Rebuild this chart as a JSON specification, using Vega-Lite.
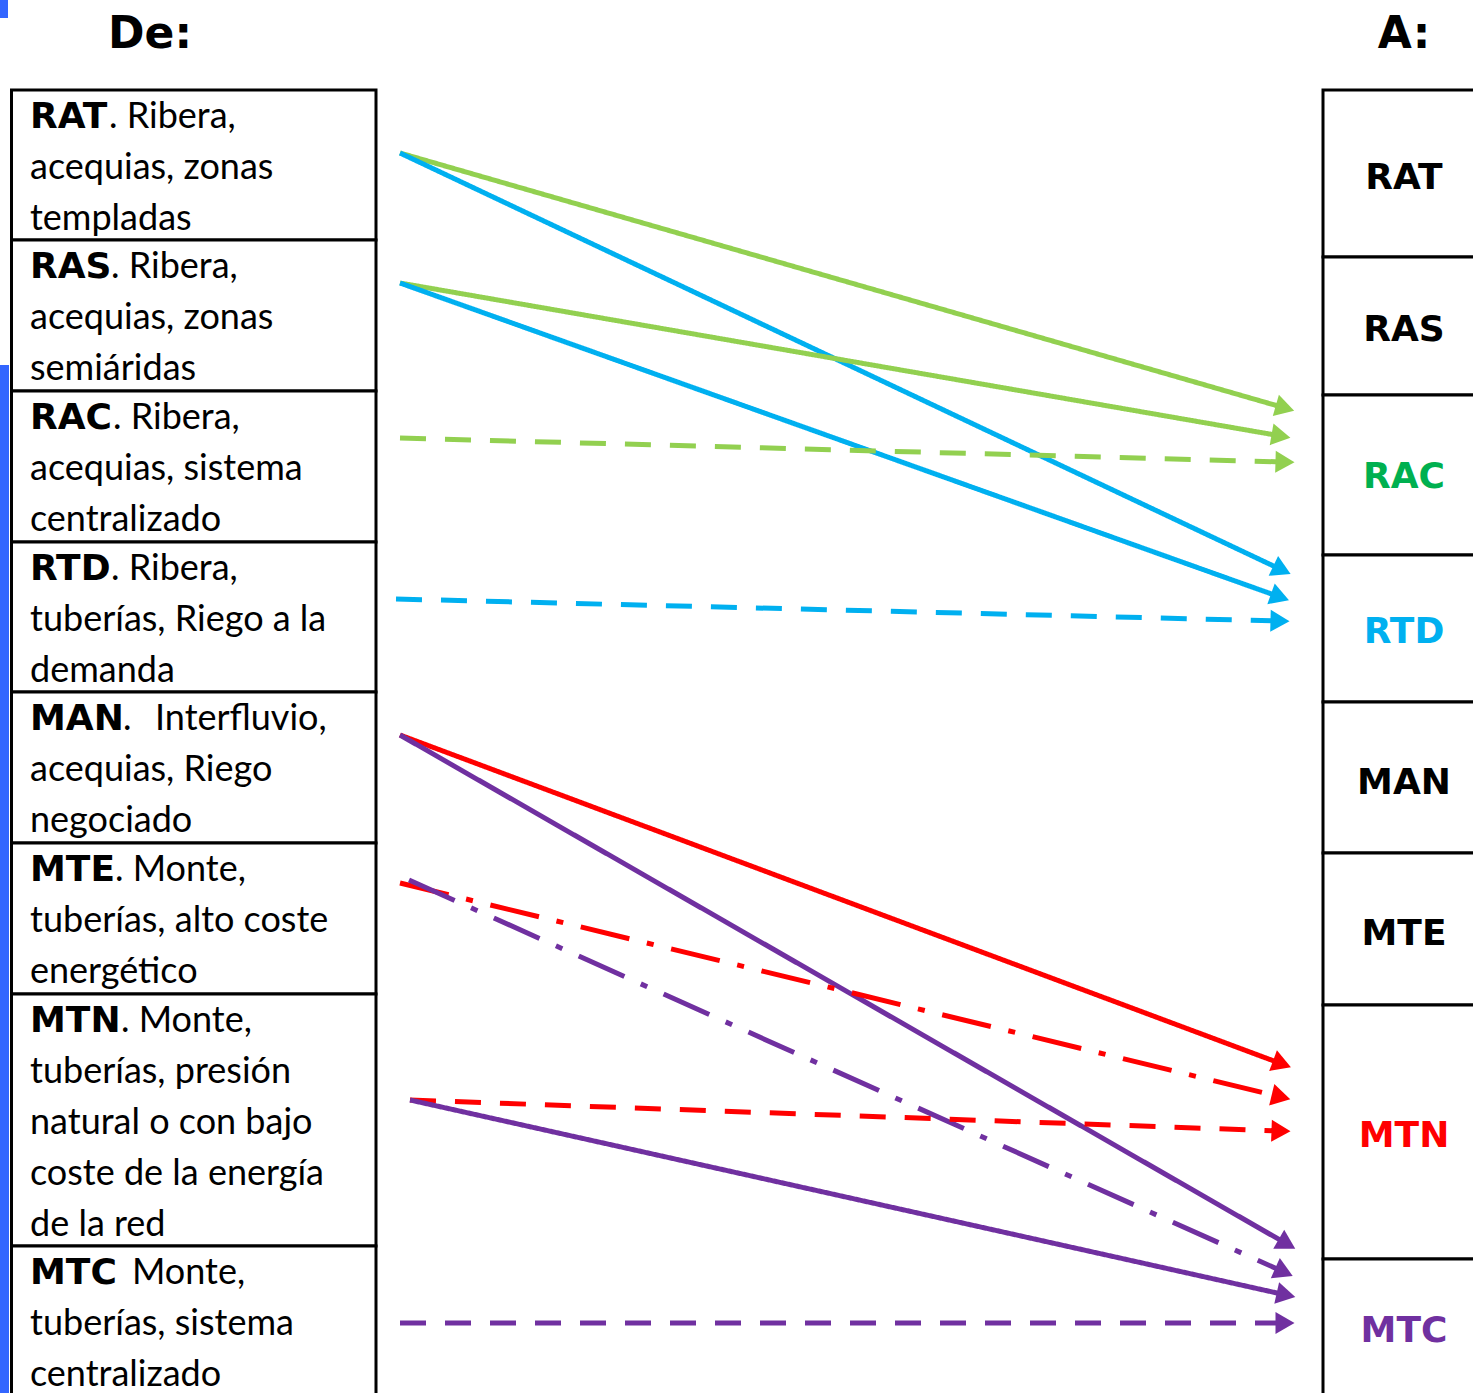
{
  "$schema": "https://vega.github.io/schema/vega-lite/v6.json",
  "width": 1473,
  "height": 1393,
  "autosize": {"type": "fit", "contains": "padding"},
  "padding": 0,
  "background": "white",
  "config": {"view": {"stroke": null}},
  "datasets": {
    "deco": [
      {"x": 0, "x2": 9, "y": 365, "y2": 1393},
      {"x": 0, "x2": 8, "y": 0, "y2": 18}
    ],
    "boxes": [
      {"side": "L", "x": 11.5, "x2": 376, "y": 90, "y2": 240},
      {"side": "L", "x": 11.5, "x2": 376, "y": 240, "y2": 391},
      {"side": "L", "x": 11.5, "x2": 376, "y": 391, "y2": 542},
      {"side": "L", "x": 11.5, "x2": 376, "y": 542, "y2": 692},
      {"side": "L", "x": 11.5, "x2": 376, "y": 692, "y2": 843},
      {"side": "L", "x": 11.5, "x2": 376, "y": 843, "y2": 994},
      {"side": "L", "x": 11.5, "x2": 376, "y": 994, "y2": 1246},
      {"side": "L", "x": 11.5, "x2": 376, "y": 1246, "y2": 1405},
      {"side": "R", "x": 1323, "x2": 1490, "y": 90, "y2": 257},
      {"side": "R", "x": 1323, "x2": 1490, "y": 257, "y2": 395},
      {"side": "R", "x": 1323, "x2": 1490, "y": 395, "y2": 555},
      {"side": "R", "x": 1323, "x2": 1490, "y": 555, "y2": 702},
      {"side": "R", "x": 1323, "x2": 1490, "y": 702, "y2": 853},
      {"side": "R", "x": 1323, "x2": 1490, "y": 853, "y2": 1005},
      {"side": "R", "x": 1323, "x2": 1490, "y": 1005, "y2": 1259},
      {"side": "R", "x": 1323, "x2": 1490, "y": 1259, "y2": 1405}
    ],
    "titles": [
      {"text": "De:", "x": 150, "y": 48},
      {"text": "A:", "x": 1404, "y": 48}
    ],
    "codes": [
      {"text": "RAT", "x": 30, "y": 128},
      {"text": "RAS", "x": 30, "y": 278},
      {"text": "RAC", "x": 30, "y": 429},
      {"text": "RTD", "x": 30, "y": 580},
      {"text": "MAN", "x": 30, "y": 730},
      {"text": "MTE", "x": 30, "y": 881},
      {"text": "MTN", "x": 30, "y": 1032},
      {"text": "MTC", "x": 30, "y": 1284}
    ],
    "plain": [
      {"text": ". Ribera,", "x": 109, "y": 128},
      {"text": "acequias, zonas", "x": 30, "y": 179},
      {"text": "templadas", "x": 30, "y": 230},
      {"text": ". Ribera,", "x": 111, "y": 278},
      {"text": "acequias, zonas", "x": 30, "y": 329},
      {"text": "semiáridas", "x": 30, "y": 380},
      {"text": ". Ribera,", "x": 113, "y": 429},
      {"text": "acequias, sistema", "x": 30, "y": 480},
      {"text": "centralizado", "x": 30, "y": 531},
      {"text": ". Ribera,", "x": 111, "y": 580},
      {"text": "tuberías, Riego a la", "x": 30, "y": 631},
      {"text": "demanda", "x": 30, "y": 682},
      {"text": ".", "x": 123, "y": 730},
      {"text": "Interfluvio,", "x": 155, "y": 730},
      {"text": "acequias, Riego", "x": 30, "y": 781},
      {"text": "negociado", "x": 30, "y": 832},
      {"text": ". Monte,", "x": 115, "y": 881},
      {"text": "tuberías, alto coste", "x": 30, "y": 932},
      {"text": "energético", "x": 30, "y": 983},
      {"text": ". Monte,", "x": 121, "y": 1032},
      {"text": "tuberías, presión", "x": 30, "y": 1083},
      {"text": "natural o con bajo", "x": 30, "y": 1134},
      {"text": "coste de la energía", "x": 30, "y": 1185},
      {"text": "de la red", "x": 30, "y": 1236},
      {"text": "Monte,", "x": 132, "y": 1284},
      {"text": "tuberías, sistema", "x": 30, "y": 1335},
      {"text": "centralizado", "x": 30, "y": 1386}
    ],
    "right": [
      {"text": "RAT", "x": 1404, "y": 189},
      {"text": "RAS", "x": 1404, "y": 341},
      {"text": "RAC", "x": 1404, "y": 488},
      {"text": "RTD", "x": 1404, "y": 643},
      {"text": "MAN", "x": 1404, "y": 794},
      {"text": "MTE", "x": 1404, "y": 945},
      {"text": "MTN", "x": 1404, "y": 1147},
      {"text": "MTC", "x": 1404, "y": 1342}
    ],
    "arrows": [
      {"from": "RAT", "to": "RAC", "kind": "solid", "x": 400, "y": 153, "x2": 1285, "y2": 408},
      {"from": "RAT", "to": "RTD", "kind": "solid", "x": 400, "y": 153, "x2": 1282, "y2": 570},
      {"from": "RAS", "to": "RAC", "kind": "solid", "x": 400, "y": 283, "x2": 1281, "y2": 436},
      {"from": "RAS", "to": "RTD", "kind": "solid", "x": 400, "y": 283, "x2": 1280, "y2": 597},
      {"from": "RAC", "to": "RAC", "kind": "dashed", "x": 400, "y": 438, "x2": 1285, "y2": 462},
      {"from": "RTD", "to": "RTD", "kind": "dashed", "x": 396, "y": 599, "x2": 1280, "y2": 621},
      {"from": "MAN", "to": "MTN", "kind": "solid", "x": 400, "y": 735, "x2": 1282, "y2": 1064},
      {"from": "MAN", "to": "MTC", "kind": "solid", "x": 400, "y": 735, "x2": 1287, "y2": 1244},
      {"from": "MTE", "to": "MTN", "kind": "dashdot", "x": 400, "y": 883, "x2": 1281, "y2": 1097},
      {"from": "MTE", "to": "MTC", "kind": "dashdot", "x": 409, "y": 880, "x2": 1284, "y2": 1272},
      {"from": "MTN", "to": "MTN", "kind": "dashed", "x": 410, "y": 1100, "x2": 1281, "y2": 1131},
      {"from": "MTN", "to": "MTC", "kind": "solid", "x": 410, "y": 1100, "x2": 1286, "y2": 1295},
      {"from": "MTC", "to": "MTC", "kind": "dashed", "x": 400, "y": 1323, "x2": 1285, "y2": 1323}
    ]
  },
  "encoding": {
    "x": {"field": "x", "type": "quantitative", "scale": {"domain": [0, 1473], "nice": false, "zero": false}, "axis": null},
    "y": {"field": "y", "type": "quantitative", "scale": {"domain": [0, 1393], "nice": false, "zero": false, "reverse": true}, "axis": null}
  },
  "layer": [
    {
      "data": {"name": "deco"},
      "mark": {"type": "rect", "color": "#3366ff", "clip": true},
      "encoding": {"x2": {"field": "x2"}, "y2": {"field": "y2"}}
    },
    {
      "data": {"name": "boxes"},
      "mark": {"type": "rect", "fill": "white", "stroke": "black", "strokeWidth": 3, "clip": true},
      "encoding": {"x2": {"field": "x2"}, "y2": {"field": "y2"}}
    },
    {
      "data": {"name": "titles"},
      "mark": {"type": "text", "font": "DejaVu Sans", "fontWeight": "bold", "fontSize": 44, "align": "center", "baseline": "alphabetic", "color": "black"},
      "encoding": {"text": {"field": "text"}}
    },
    {
      "data": {"name": "codes"},
      "mark": {"type": "text", "font": "DejaVu Sans", "fontWeight": "bold", "fontSize": 36, "align": "left", "baseline": "alphabetic", "color": "black"},
      "encoding": {"text": {"field": "text"}}
    },
    {
      "data": {"name": "plain"},
      "mark": {"type": "text", "font": "Lato", "fontSize": 36, "align": "left", "baseline": "alphabetic", "color": "black"},
      "encoding": {"text": {"field": "text"}}
    },
    {
      "data": {"name": "right"},
      "mark": {"type": "text", "font": "DejaVu Sans", "fontWeight": "bold", "fontSize": 36, "align": "center", "baseline": "alphabetic"},
      "encoding": {
        "text": {"field": "text"},
        "color": {"field": "text", "type": "nominal", "legend": null,
          "scale": {"domain": ["RAT", "RAS", "RAC", "RTD", "MAN", "MTE", "MTN", "MTC"],
                    "range": ["#000000", "#000000", "#00b050", "#00b0f0", "#000000", "#000000", "#ff0000", "#7030a0"]}}
      }
    },
    {
      "data": {"name": "arrows"},
      "mark": {"type": "rule", "strokeWidth": 5},
      "encoding": {
        "x2": {"field": "x2"},
        "y2": {"field": "y2"},
        "color": {"field": "to", "type": "nominal", "legend": null,
          "scale": {"domain": ["RAC", "RTD", "MTN", "MTC"], "range": ["#92d050", "#00b0f0", "#ff0000", "#7030a0"]}},
        "strokeDash": {"field": "kind", "type": "nominal", "legend": null,
          "scale": {"domain": ["solid", "dashed", "dashdot"], "range": [[1, 0], [26, 19], [50, 18, 7, 18]]}}
      }
    },
    {
      "data": {"name": "arrows"},
      "transform": [{"calculate": "atan2(datum.y2 - datum.y, datum.x2 - datum.x) * 180 / PI", "as": "ang"}],
      "mark": {"type": "point", "shape": "triangle-right", "filled": true, "opacity": 1, "size": 484, "strokeWidth": 0},
      "encoding": {
        "x": {"field": "x2", "type": "quantitative"},
        "y": {"field": "y2", "type": "quantitative"},
        "angle": {"field": "ang", "type": "quantitative", "scale": null},
        "color": {"field": "to", "type": "nominal", "legend": null,
          "scale": {"domain": ["RAC", "RTD", "MTN", "MTC"], "range": ["#92d050", "#00b0f0", "#ff0000", "#7030a0"]}}
      }
    }
  ],
  "resolve": {"scale": {"color": "independent"}}
}
